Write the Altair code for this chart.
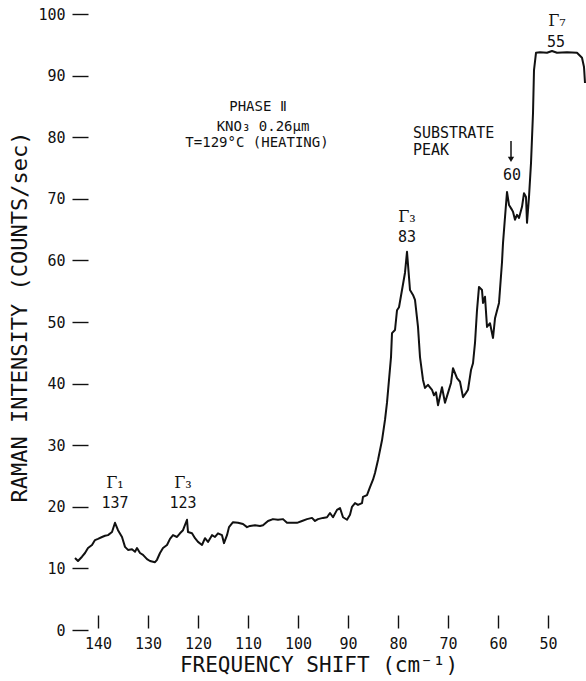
import altair as alt
import pandas as pd

# Raman spectrum of KNO3 film, phase II, heating run at 129 °C
shift = [
    144.6, 144.0, 143.2, 142.6, 142.0, 141.2, 140.6, 140.0, 139.2, 138.6,
    138.0, 137.2, 136.6, 136.0, 135.2, 134.6, 134.0, 133.2, 132.6, 132.2,
    131.6, 131.0, 130.2, 129.6, 128.6, 128.2, 127.6, 127.0, 126.2, 125.6,
    125.0, 124.2, 123.6, 123.0, 122.2, 122.0, 121.2, 120.6, 120.0, 119.2,
    118.6, 118.0, 117.2, 116.6, 116.0, 115.2, 114.8, 114.2, 113.8, 113.0,
    112.0, 111.0, 110.2, 109.6, 108.6, 107.6, 107.0, 106.0, 105.0, 104.0,
    103.0, 102.2, 101.2, 100.2, 99.2, 98.2, 97.2, 96.6, 96.0, 95.0,
    94.2, 93.6, 93.0, 92.2, 91.6, 91.0, 90.2, 89.6, 89.2, 88.6,
    88.0, 87.2, 87.0, 86.2, 85.6, 85.0, 84.6, 84.0, 83.2, 82.6,
    82.2, 81.8, 81.4, 81.2, 80.6, 80.2, 79.8, 79.2, 78.6, 78.2,
    77.6, 77.0, 76.6, 76.0, 75.6, 75.0, 74.6, 74.0, 73.2, 72.8,
    72.4, 72.0, 71.2, 70.6, 70.0, 69.4, 69.0, 68.2, 67.6, 67.0,
    66.4, 66.0, 65.4, 65.0, 64.6, 64.2, 63.8, 63.2, 63.0, 62.6,
    62.2, 61.6, 61.0, 60.6, 59.8, 59.2, 59.0, 58.6, 58.2, 57.8,
    57.2, 57.0, 56.6, 56.2, 55.8, 55.2, 54.8, 54.4, 54.2, 53.8,
    53.4, 53.0, 52.8, 52.4, 51.6, 50.2, 49.2, 48.2, 46.2, 44.2,
    43.2, 42.8, 42.6,
]
intensity = [
    11.7, 11.2, 11.9, 12.5, 13.3, 13.8, 14.6, 14.8, 15.1, 15.3,
    15.4, 15.9, 17.4, 16.2, 15.1, 13.5, 13.0, 13.1, 12.7, 13.3,
    12.5, 12.2, 11.5, 11.2, 11.0, 11.4, 12.5, 13.3, 13.8, 14.8,
    15.4, 15.1, 15.7, 16.2, 17.9, 15.9, 15.7, 14.9, 14.3, 13.8,
    14.9, 14.3, 15.4, 15.1, 15.7, 15.4, 14.1, 15.4, 16.7, 17.5,
    17.4, 17.2, 16.7, 16.9, 17.0, 16.9, 17.0, 17.7, 18.0, 17.9,
    18.0, 17.4, 17.4, 17.4, 17.7, 18.0, 18.2, 17.7, 18.0, 18.2,
    18.3, 19.0, 18.3, 19.5, 19.8, 18.3, 17.9, 18.7, 20.0, 20.6,
    20.3, 20.6, 21.6, 21.9, 23.2, 24.4, 25.5, 27.6, 30.8, 34.1,
    36.9, 40.6, 44.3, 48.2, 48.7, 51.9, 52.4, 55.2, 58.0, 61.4,
    55.2, 54.4, 53.6, 49.2, 44.3, 40.6, 39.3, 39.8, 39.0, 38.1,
    38.6, 36.5, 39.4, 36.9, 38.5, 40.1, 42.5, 40.9, 40.3, 37.8,
    38.5, 39.0, 42.2, 43.3, 46.6, 51.9, 55.7, 55.2, 53.1, 54.1,
    49.2, 49.8, 47.4, 50.6, 53.1, 59.7, 62.8, 67.0, 71.1, 69.0,
    68.2, 67.9, 66.6, 67.4, 66.9, 68.7, 70.9, 70.3, 66.1, 70.3,
    75.8, 83.9, 90.9, 93.7, 93.8, 93.7, 94.0, 93.7, 93.8, 93.7,
    92.9, 91.4, 88.8,
]

x_ticks = [140, 130, 120, 110, 100, 90, 80, 70, 60, 50]
y_ticks = [0, 10, 20, 30, 40, 50, 60, 70, 80, 90, 100]

# Mode labels (symmetry + peak position)
mode_text = ["Γ₁", "Γ₃", "Γ₃", "Γ₇"]
mode_x = [136.6, 123.0, 78.2, 48.2]
mode_y = [23.8, 23.8, 67.0, 98.8]
peak_text = ["137", "123", "83", "60", "55"]
peak_x = [136.6, 123.0, 78.2, 57.2, 48.4]
peak_y = [20.6, 20.6, 63.8, 73.9, 95.5]

# Sample description block
info_text = ["PHASE Ⅱ", "KNO₃ 0.26μm", "T=129°C (HEATING)"]
info_x = [108.0, 107.0, 108.2]
info_y = [84.9, 81.7, 79.0]

# Substrate peak note and its arrow
note_text = ["SUBSTRATE", "PEAK"]
note_x = [77.0, 77.0]
note_y = [80.7, 77.9]
arrow_x = [57.4]
arrow_top = [79.4]
arrow_tip = [76.4]

FONT = "DejaVu Sans Mono"
INK = "#111111"

xs = alt.Scale(domain=[42.6, 145], reverse=True, nice=False, zero=False)
ys = alt.Scale(domain=[0, 100], nice=False, zero=False)

x_axis = alt.Axis(
    values=x_ticks, title=None, grid=False, domain=False,
    offset=-15, tickSize=13, tickWidth=1.4, tickColor=INK,
    labelFont=FONT, labelFontSize=15, labelColor=INK,
    labelPadding=8, labelFlush=False, labelOverlap=False,
)
y_axis = alt.Axis(
    values=y_ticks, title=None, grid=False, domain=False,
    offset=-15, tickSize=16, tickWidth=1.4, tickColor=INK,
    labelFont=FONT, labelFontSize=15, labelColor=INK,
    labelPadding=7, labelFlush=False, labelOverlap=False,
)

spectrum = pd.DataFrame({"shift": shift, "intensity": intensity})

line = alt.Chart(spectrum).mark_line(
    color=INK, strokeWidth=2, strokeJoin="round", interpolate="linear"
).encode(
    x=alt.X("shift:Q", scale=xs, axis=x_axis),
    y=alt.Y("intensity:Q", scale=ys, axis=y_axis),
)


def text_layer(texts, xv, yv, size, font=FONT, align="center"):
    df = pd.DataFrame({"shift": xv, "intensity": yv, "t": texts})
    return alt.Chart(df).mark_text(
        font=font, fontSize=size, color=INK, align=align, baseline="middle"
    ).encode(
        x=alt.X("shift:Q", scale=xs, axis=x_axis),
        y=alt.Y("intensity:Q", scale=ys, axis=y_axis),
        text="t:N",
    )


modes = text_layer(mode_text, mode_x, mode_y, 16, font="DejaVu Serif")
peaks = text_layer(peak_text, peak_x, peak_y, 15)
info = text_layer(info_text, info_x, info_y, 14)
note = text_layer(note_text, note_x, note_y, 15, align="left")

arrow_df = pd.DataFrame({"shift": arrow_x, "intensity": arrow_top, "tip": arrow_tip})
arrow_shaft = alt.Chart(arrow_df).mark_rule(color=INK, strokeWidth=1.5).encode(
    x=alt.X("shift:Q", scale=xs, axis=x_axis),
    y=alt.Y("intensity:Q", scale=ys, axis=y_axis),
    y2="tip:Q",
)
arrow_head = alt.Chart(arrow_df).mark_point(
    shape="triangle-down", filled=True, color=INK, size=40, opacity=1
).encode(
    x=alt.X("shift:Q", scale=xs, axis=x_axis),
    y=alt.Y("tip:Q", scale=ys, axis=y_axis),
)

y_title = alt.Chart(pd.DataFrame({"t": ["RAMAN INTENSITY (COUNTS/sec)"]})).mark_text(
    font=FONT, fontSize=22, color=INK, angle=270, align="center", baseline="middle"
).encode(text="t:N", x=alt.value(-53), y=alt.value(303))

x_title = alt.Chart(pd.DataFrame({"t": ["FREQUENCY SHIFT (cm⁻¹)"]})).mark_text(
    font=FONT, fontSize=21, color=INK, align="center", baseline="middle"
).encode(text="t:N", x=alt.value(246), y=alt.value(652))

chart = alt.layer(
    line, modes, peaks, info, note, arrow_shaft, arrow_head, y_title, x_title
).properties(
    width=512,
    height=616,
    autosize="none",
    padding={"left": 73, "top": 14, "right": 1, "bottom": 51},
    background="white",
).configure_view(stroke=None)

chart.save("out.html", embed_options={"renderer": "svg", "actions": False})
